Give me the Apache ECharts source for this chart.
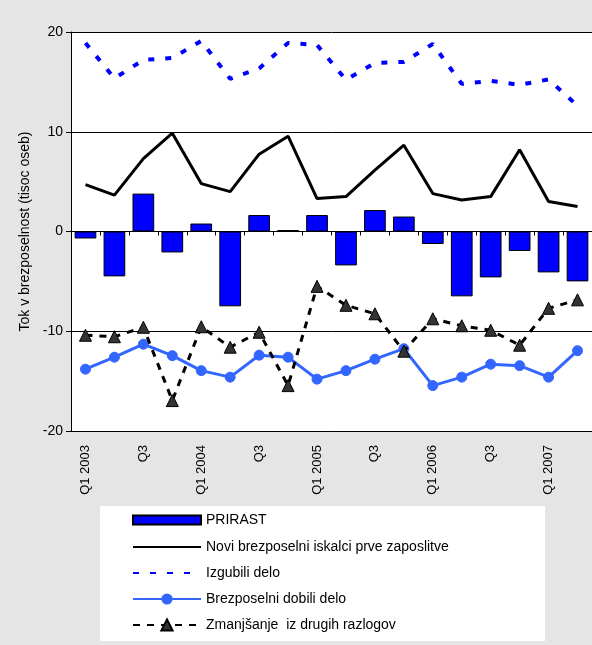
<!DOCTYPE html>
<html>
<head>
<meta charset="utf-8">
<script src="https://cdn.jsdelivr.net/npm/echarts@6/dist/echarts.min.js"></script>
<style>html,body{margin:0;padding:0;background:#e3e3e3;}#c{width:592px;height:645px;}</style>
</head>
<body>
<div id="c"></div>
<script>
const categories = ["Q1 2003","Q2","Q3","Q4","Q1 2004","Q2","Q3","Q4","Q1 2005","Q2","Q3","Q4","Q1 2006","Q2","Q3","Q4","Q1 2007","Q2"];
const prirast = [-0.7,-4.5,3.8,-2.1,0.8,-7.5,1.65,0.15,1.65,-3.4,2.15,1.5,-1.25,-6.5,-4.6,-1.95,-4.1,-5.0];
const noviIskalci = [4.7,3.65,7.3,9.85,4.8,4.0,7.75,9.55,3.3,3.5,6.15,8.65,3.8,3.15,3.5,8.2,3.0,2.5];
const izgubiliDelo = [18.9,15.35,17.2,17.4,19.1,15.3,16.35,18.9,18.7,15.2,16.9,17.0,18.8,14.8,15.1,14.7,15.25,12.6];
const dobiliDelo = [-13.8,-12.6,-11.3,-12.45,-13.95,-14.6,-12.4,-12.6,-14.8,-13.95,-12.8,-11.75,-15.45,-14.6,-13.3,-13.45,-14.6,-11.95];
const drugiRazlogi = [-10.4,-10.55,-9.6,-16.95,-9.55,-11.6,-10.1,-15.45,-5.5,-7.4,-8.25,-12.0,-8.75,-9.45,-9.9,-11.4,-7.7,-6.85];
const yTicks = [-20,-10,0,10,20];

const FONT = '"Liberation Sans", Arial, sans-serif';
const hiddenSym = {color:'rgba(0,0,0,0)', borderColor:'rgba(0,0,0,0)', borderWidth:0};
const chart = echarts.init(document.getElementById('c'), null, {renderer:'canvas'});
chart.setOption({
  backgroundColor: '#e5e5e5',
  animation: false,
  graphic: [
    {type:'rect', left:71, top:32, shape:{width:521, height:399}, style:{fill:'#ffffff'}, z:-10, silent:true},
    {type:'rect', left:100, top:506, shape:{width:445, height:135}, style:{fill:'#ffffff'}, z:-10, silent:true}
  ],
  grid: {left:71, top:32, right:0, bottom:214, containLabel:false},
  legend: [
    {
      orient:'vertical', left:127, top:508, itemWidth:68, itemHeight:9, itemGap:10,
      data:[{name:'PRIRAST', icon:'rect'}],
      textStyle:{fontFamily:FONT, fontSize:14, color:'#000'}
    },
    {
      orient:'vertical', left:127, top:535, itemWidth:68, itemHeight:14, itemGap:12,
      data:[
        {name:'Novi brezposelni iskalci prve zaposlitve', itemStyle:hiddenSym},
        {name:'Izgubili delo', itemStyle:hiddenSym},
        'Brezposelni dobili delo',
        'Zmanjšanje  iz drugih razlogov'
      ],
      textStyle:{fontFamily:FONT, fontSize:14, color:'#000'}
    }
  ],
  xAxis: [
    {
      type:'category', data:categories, boundaryGap:true,
      axisLine:{show:true, onZero:true, lineStyle:{color:'#000', width:1}},
      axisTick:{show:true, interval:0, length:4, inside:false, lineStyle:{color:'#000'}},
      axisLabel:{show:false}, splitLine:{show:false}
    },
    {
      type:'category', data:categories, boundaryGap:true, position:'bottom',
      axisLine:{show:true, onZero:false, lineStyle:{color:'#000', width:1}},
      axisTick:{show:false},
      axisLabel:{show:true, interval:1, rotate:90, margin:14, fontFamily:FONT, fontSize:13, color:'#000'}
    }
  ],
  yAxis: {
    type:'value', min:-20, max:20, interval:10,
    name:'Tok v brezposelnost (tisoc oseb)', nameLocation:'middle', nameGap:38, nameRotate:90,
    nameTextStyle:{fontFamily:FONT, fontSize:14, color:'#000'},
    axisLine:{show:true, lineStyle:{color:'#000', width:1}},
    axisTick:{show:true, length:5, lineStyle:{color:'#000'}},
    axisLabel:{fontFamily:FONT, fontSize:14, color:'#000', margin:8,
      formatter: v => yTicks.includes(v) ? String(v) : ''},
    splitLine:{show:true, lineStyle:{color:'#000', width:1}}
  },
  series: [
    {
      name:'PRIRAST', type:'bar', data:prirast, barCategoryGap:'25%',
      itemStyle:{color:'#0000ff', borderColor:'#000', borderWidth:1}, z:2
    },
    {
      name:'Novi brezposelni iskalci prve zaposlitve', type:'line', data:noviIskalci,
      symbol:'none', lineStyle:{color:'#000', width:3}, itemStyle:{color:'#000'}, z:3
    },
    {
      name:'Izgubili delo', type:'line', data:izgubiliDelo,
      symbol:'none', lineStyle:{color:'#0000ff', width:4, type:[6,11]}, itemStyle:{color:'#0000ff'}, z:3
    },
    {
      name:'Brezposelni dobili delo', type:'line', data:dobiliDelo,
      symbol:'circle', symbolSize:10,
      lineStyle:{color:'#3366ff', width:3}, itemStyle:{color:'#3366ff', borderColor:'#3366ff'}, z:4
    },
    {
      name:'Zmanjšanje  iz drugih razlogov', type:'line', data:drugiRazlogi,
      symbol:'triangle', symbolSize:12,
      lineStyle:{color:'#000', width:3, type:[7,7]}, itemStyle:{color:'#333333', borderColor:'#000', borderWidth:1}, z:5
    }
  ]
});
</script>
</body>
</html>
